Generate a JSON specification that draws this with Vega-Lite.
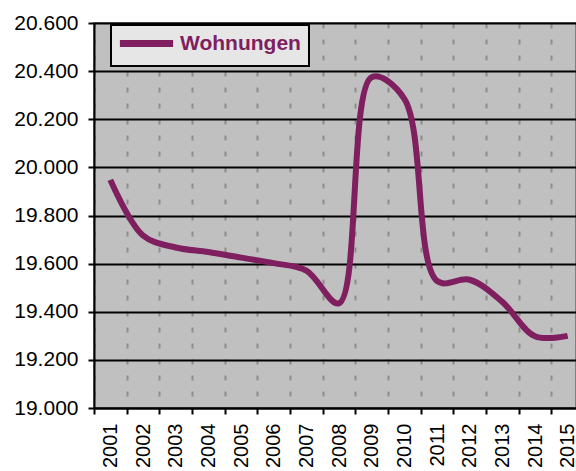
{
  "$schema": "https://vega.github.io/schema/vega-lite/v6.json",
  "autosize": {"type": "none"},
  "width": 482,
  "height": 385,
  "padding": {"left": 94, "top": 23, "right": 0, "bottom": 63},
  "background": "white",
  "config": {
    "font": "Liberation Sans",
    "view": {"fill": "#C0C0C0", "stroke": "#808080", "strokeWidth": 2},
    "legend": {"strokeWidth": 2}
  },
  "data": {
    "values": [
      {"Jahr": "2001", "Wert": 19948, "Serie": "Wohnungen"},
      {"Jahr": "2002", "Wert": 19717, "Serie": "Wohnungen"},
      {"Jahr": "2003", "Wert": 19667, "Serie": "Wohnungen"},
      {"Jahr": "2004", "Wert": 19648, "Serie": "Wohnungen"},
      {"Jahr": "2005", "Wert": 19625, "Serie": "Wohnungen"},
      {"Jahr": "2006", "Wert": 19602, "Serie": "Wohnungen"},
      {"Jahr": "2007", "Wert": 19571, "Serie": "Wohnungen"},
      {"Jahr": "2008", "Wert": 19435, "Serie": "Wohnungen"},
      {"Jahr": "2009", "Wert": 20375, "Serie": "Wohnungen"},
      {"Jahr": "2010", "Wert": 20285, "Serie": "Wohnungen"},
      {"Jahr": "2011", "Wert": 19528, "Serie": "Wohnungen"},
      {"Jahr": "2012", "Wert": 19533, "Serie": "Wohnungen"},
      {"Jahr": "2013", "Wert": 19441, "Serie": "Wohnungen"},
      {"Jahr": "2014", "Wert": 19298, "Serie": "Wohnungen"},
      {"Jahr": "2015", "Wert": 19300, "Serie": "Wohnungen"}
    ]
  },
  "mark": {"type": "line", "interpolate": "catmull-rom", "strokeWidth": 6, "strokeCap": "butt", "strokeJoin": "round"},
  "encoding": {
    "x": {
      "field": "Jahr",
      "type": "ordinal",
      "scale": {"type": "band", "range": [0, 490], "paddingInner": 0, "paddingOuter": 0},
      "axis": {
        "title": null,
        "labelAngle": -90,
        "labelAlign": "right",
        "labelBaseline": "middle",
        "labelFontSize": 20,
        "labelColor": "black",
        "labelPadding": 9,
        "tickBand": "extent",
        "tickSize": 6,
        "tickWidth": 2,
        "tickColor": "black",
        "domainColor": "black",
        "domainWidth": 2,
        "grid": true,
        "gridColor": "#8C8C8C",
        "gridWidth": 2,
        "gridDash": [5, 11]
      }
    },
    "y": {
      "field": "Wert",
      "type": "quantitative",
      "scale": {"domain": [19000, 20600], "nice": false, "zero": false},
      "axis": {
        "title": null,
        "values": [19000, 19200, 19400, 19600, 19800, 20000, 20200, 20400, 20600],
        "labelExpr": "format(datum.value / 1000, '.3f')",
        "labelFontSize": 21,
        "labelColor": "black",
        "labelPadding": 10,
        "tickSize": 6,
        "tickWidth": 2,
        "tickColor": "black",
        "domainColor": "black",
        "domainWidth": 2,
        "grid": true,
        "gridColor": "black",
        "gridWidth": 2
      }
    },
    "color": {
      "field": "Serie",
      "type": "nominal",
      "scale": {"domain": ["Wohnungen"], "range": ["#7F1F5F"]},
      "legend": {
        "title": null,
        "orient": "none",
        "legendX": 17,
        "legendY": 2,
        "direction": "vertical",
        "fillColor": "#E6E6E6",
        "strokeColor": "black",
        "padding": 8,
        "symbolType": "M-3.8,0H3.8",
        "symbolSize": 196,
        "symbolStrokeWidth": 7,
        "symbolOffset": 17,
        "labelFontSize": 21,
        "labelFontWeight": "bold",
        "labelColor": "#7F1F5F",
        "labelOffset": 23,
        "labelLimit": 300
      }
    }
  }
}
